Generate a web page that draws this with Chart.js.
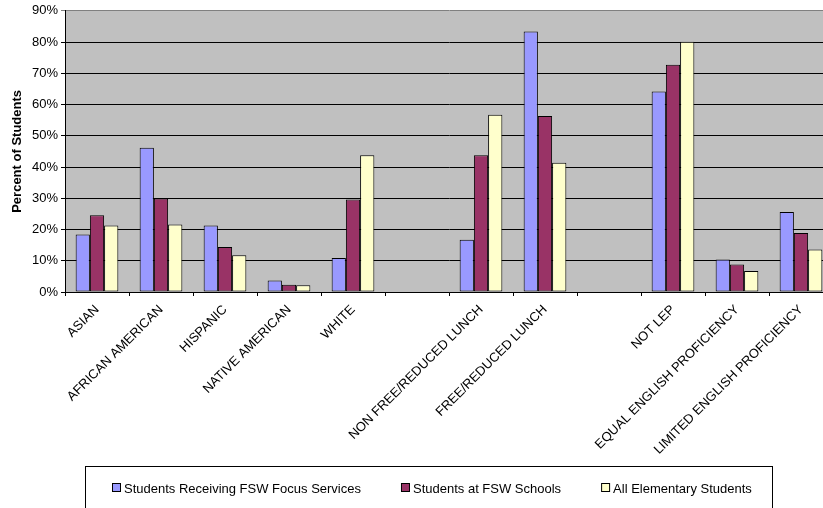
<!DOCTYPE html>
<html>
<head>
<meta charset="utf-8">
<script src="https://cdn.jsdelivr.net/npm/chart.js@4"></script>
<style>
  html, body { margin: 0; padding: 0; background: #fff; overflow: hidden; }
  #wrap { width: 823px; height: 508px; overflow: hidden; position: relative; }
  #box { position: absolute; left: 0; top: 0; width: 860px; height: 508px; }
</style>
</head>
<body>
<div id="wrap"><div id="box"><canvas id="chart"></canvas></div></div>
<script>
const categories = [
  'ASIAN', 'AFRICAN AMERICAN', 'HISPANIC', 'NATIVE AMERICAN', 'WHITE', '',
  'NON FREE/REDUCED LUNCH', 'FREE/REDUCED LUNCH', '',
  'NOT LEP', 'EQUAL ENGLISH PROFICIENCY', 'LIMITED ENGLISH PROFICIENCY'
];
const focusServices = [18.4, 46.2, 21.3, 3.7, 10.9, null, 16.7, 83.4, null, 64.2, 10.4, 25.6];
const fswSchools = [24.6, 29.9, 14.4, 2.3, 29.6, null, 43.8, 56.3, null, 72.7, 8.8, 18.9];
const allElementary = [21.3, 21.6, 11.8, 2.2, 43.8, null, 56.7, 41.4, null, 80.1, 6.7, 13.6];
const seriesNames = ['Students Receiving FSW Focus Services', 'Students at FSW Schools', 'All Elementary Students'];
const seriesColors = ['#9999FF', '#993366', '#FFFFCC'];
const yTicks = [0, 10, 20, 30, 40, 50, 60, 70, 80, 90];

const FONT = '"Liberation Sans", Arial, sans-serif';

// grey plot area like the Excel original
const plotBackground = {
  id: 'plotBackground',
  beforeDraw(chart) {
    const { ctx, chartArea: a } = chart;
    ctx.save();
    ctx.fillStyle = '#C0C0C0';
    ctx.fillRect(a.left, a.top, a.right - a.left, a.bottom - a.top);
    ctx.restore();
  }
};

// boxed legend under the chart
const boxedLegend = {
  id: 'boxedLegend',
  afterDraw(chart) {
    const ctx = chart.ctx;
    ctx.save();
    ctx.strokeStyle = '#000';
    ctx.lineWidth = 1;
    ctx.strokeRect(85.5, 466.5, 687, 70);
    ctx.font = '13px ' + FONT;
    ctx.textBaseline = 'middle';
    ctx.fillStyle = '#000';
    let x = 112;
    chart.data.datasets.forEach(ds => {
      ctx.fillStyle = ds.backgroundColor;
      ctx.fillRect(x + 0.5, 483.5, 8, 8);
      ctx.strokeRect(x + 0.5, 483.5, 8, 8);
      ctx.fillStyle = '#000';
      ctx.fillText(ds.label, x + 12, 489);
      x += 12 + ctx.measureText(ds.label).width + 40;
    });
    ctx.restore();
  }
};

new Chart(document.getElementById('chart'), {
  type: 'bar',
  data: {
    labels: categories,
    datasets: [focusServices, fswSchools, allElementary].map((d, i) => ({
      label: seriesNames[i],
      data: d,
      backgroundColor: seriesColors[i],
      borderColor: '#000',
      borderWidth: 1,
      borderSkipped: false,
      barPercentage: 1,
      categoryPercentage: 0.667
    }))
  },
  options: {
    responsive: true,
    maintainAspectRatio: false,
    animation: false,
    layout: { padding: { top: 10, right: 27, left: 0, bottom: 0 } },
    plugins: {
      legend: { display: false },
      tooltip: { enabled: false }
    },
    scales: {
      x: {
        afterFit: s => { s.height = 216; },
        grid: {
          display: true,
          offset: true,
          drawOnChartArea: false,
          drawTicks: true,
          tickLength: 4,
          color: '#000'
        },
        border: { display: true, color: '#000', width: 1 },
        ticks: {
          autoSkip: false,
          minRotation: 45,
          maxRotation: 45,
          color: '#000',
          padding: 6,
          font: { family: FONT, size: 13 }
        }
      },
      y: {
        min: 0,
        max: 90,
        afterFit: s => { s.width = 65; },
        afterBuildTicks: s => { s.ticks = yTicks.map(v => ({ value: v })); },
        grid: {
          color: c => (c.tick && c.tick.value === 90 ? '#808080' : '#000'),
          tickLength: 4,
          lineWidth: 1
        },
        border: { display: true, color: '#000', width: 1 },
        ticks: {
          color: '#000',
          padding: 3,
          font: { family: FONT, size: 13 },
          callback: v => v + '%'
        },
        title: {
          display: true,
          text: 'Percent of Students',
          color: '#000',
          padding: { top: 10, bottom: 0 },
          font: { family: FONT, size: 13, weight: 'bold' }
        }
      }
    }
  },
  plugins: [plotBackground, boxedLegend]
});
</script>
</body>
</html>
